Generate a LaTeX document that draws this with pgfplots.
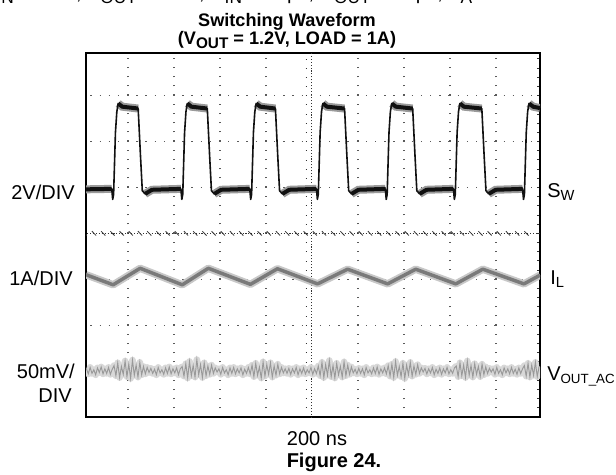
\documentclass[border=0pt]{standalone}
\usepackage{fontspec}
\setmainfont{Liberation Sans}
\usepackage{pgfplots}
\usepackage{pgfplotstable}
\pgfplotsset{compat=1.18}

\definecolor{swink}{HTML}{111111}
\definecolor{swfuzz}{HTML}{9A9A9A}
\definecolor{ilcore}{HTML}{7A7A7A}
\definecolor{ilfuzz}{HTML}{C8C8C8}
\definecolor{vocore}{HTML}{999999}
\definecolor{vofuzz}{HTML}{D8D8D8}
\definecolor{gridk}{HTML}{5A5A5A}

% lowered, smaller text for subscripts
\newcommand{\lo}[2]{\raisebox{-2.4pt}{\fontsize{#1}{#1}\selectfont #2}}

% screen divisions: x 0..10 (200 ns/div), y 0..8
% switch node, full trace
\pgfplotstableread[row sep=\\]{
x y\\
0.09 4.96\\
0.650 4.97\\ 0.670 4.74\\ 0.690 4.85\\ 0.730 6.20\\ 0.760 6.65\\ 0.790 6.83\\ 0.880 6.76\\ 1.224 6.72\\ 1.274 5.70\\ 1.314 4.93\\ 1.374 4.86\\ 1.524 4.95\\
2.153 4.97\\ 2.173 4.74\\ 2.193 4.85\\ 2.233 6.20\\ 2.263 6.65\\ 2.293 6.83\\ 2.383 6.76\\ 2.727 6.72\\ 2.777 5.70\\ 2.817 4.93\\ 2.877 4.86\\ 3.027 4.95\\
3.650 4.97\\ 3.670 4.74\\ 3.690 4.85\\ 3.730 6.20\\ 3.760 6.65\\ 3.790 6.83\\ 3.880 6.76\\ 4.208 6.72\\ 4.258 5.70\\ 4.298 4.93\\ 4.358 4.86\\ 4.508 4.95\\
5.100 4.97\\ 5.120 4.74\\ 5.140 4.85\\ 5.180 6.20\\ 5.210 6.65\\ 5.240 6.83\\ 5.330 6.76\\ 5.711 6.72\\ 5.761 5.70\\ 5.801 4.93\\ 5.861 4.86\\ 6.011 4.95\\
6.597 4.97\\ 6.617 4.74\\ 6.637 4.85\\ 6.677 6.20\\ 6.707 6.65\\ 6.737 6.83\\ 6.827 6.76\\ 7.192 6.72\\ 7.242 5.70\\ 7.282 4.93\\ 7.342 4.86\\ 7.492 4.95\\
8.078 4.97\\ 8.098 4.74\\ 8.118 4.85\\ 8.158 6.20\\ 8.188 6.65\\ 8.218 6.83\\ 8.308 6.76\\ 8.695 6.72\\ 8.745 5.70\\ 8.785 4.93\\ 8.845 4.86\\ 8.995 4.95\\
9.581 4.97\\ 9.601 4.74\\ 9.621 4.85\\ 9.661 6.20\\ 9.691 6.65\\ 9.721 6.83\\ 9.811 6.76\\ 9.960 6.73\\
}\swtrace

% switch node, flat parts (drawn thicker: noise band)
\pgfplotstableread[row sep=\\]{
x y\\
0.09 4.96\\ 0.650 4.97\\ nan nan\\
0.790 6.83\\ 0.880 6.76\\ 1.224 6.72\\ nan nan\\
1.374 4.86\\ 1.524 4.95\\ 2.153 4.97\\ nan nan\\
2.293 6.83\\ 2.383 6.76\\ 2.727 6.72\\ nan nan\\
2.877 4.86\\ 3.027 4.95\\ 3.650 4.97\\ nan nan\\
3.790 6.83\\ 3.880 6.76\\ 4.208 6.72\\ nan nan\\
4.358 4.86\\ 4.508 4.95\\ 5.100 4.97\\ nan nan\\
5.240 6.83\\ 5.330 6.76\\ 5.711 6.72\\ nan nan\\
5.861 4.86\\ 6.011 4.95\\ 6.597 4.97\\ nan nan\\
6.737 6.83\\ 6.827 6.76\\ 7.192 6.72\\ nan nan\\
7.342 4.86\\ 7.492 4.95\\ 8.078 4.97\\ nan nan\\
8.218 6.83\\ 8.308 6.76\\ 8.695 6.72\\ nan nan\\
8.845 4.86\\ 8.995 4.95\\ 9.581 4.97\\ nan nan\\
9.721 6.83\\ 9.811 6.76\\ 9.960 6.73\\
}\swflat

% inductor current
\pgfplotstableread[row sep=\\]{
x y\\
0.09 3.10\\ 0.680 2.88\\ 1.267 3.24\\ 2.183 2.88\\ 2.749 3.24\\ 3.664 2.89\\ 4.252 3.23\\
5.124 2.90\\ 5.777 3.22\\ 6.648 2.90\\ 7.258 3.22\\ 8.129 2.90\\ 8.717 3.22\\ 9.611 2.90\\ 9.960 3.09\\
}\iltrace

% output ripple (ac coupled)
\pgfplotstableread[row sep=\\]{
x y\\
0.10 1.05\\ 0.14 0.94\\ 0.18 1.08\\ 0.22 0.95\\ 0.26 1.03\\ 0.30 0.92\\ 0.34 1.07\\ 0.38 0.97\\ 0.42 1.09\\ 0.46 0.94\\ 0.50 1.05\\ 0.54 0.95\\ 0.58 1.08\\ 0.62 0.93\\ 0.66 1.04\\
0.70 1.12\\ 0.74 0.90\\ 0.78 1.18\\ 0.82 0.86\\ 0.86 1.10\\ 0.90 0.93\\ 0.94 1.22\\ 0.98 0.88\\ 1.02 1.15\\ 1.06 0.84\\ 1.10 1.24\\ 1.14 0.91\\ 1.18 1.13\\ 1.22 0.87\\ 1.26 1.19\\ 1.30 0.92\\ 1.34 1.10\\ 1.38 0.94\\ 1.42 1.08\\ 1.46 0.97\\
1.50 1.06\\ 1.54 0.95\\ 1.58 1.04\\ 1.62 0.92\\ 1.66 1.08\\ 1.70 0.96\\ 1.74 1.03\\ 1.78 0.93\\ 1.82 1.07\\ 1.86 0.95\\ 1.90 1.09\\ 1.94 0.94\\ 1.98 1.05\\ 2.02 0.96\\ 2.06 1.07\\ 2.10 0.92\\ 2.14 1.05\\
2.18 1.10\\ 2.22 0.89\\ 2.26 1.16\\ 2.30 0.85\\ 2.34 1.21\\ 2.38 0.90\\ 2.42 1.12\\ 2.46 0.87\\ 2.50 1.25\\ 2.54 0.92\\ 2.58 1.14\\ 2.62 0.86\\ 2.66 1.18\\ 2.70 0.90\\ 2.74 1.11\\ 2.78 0.93\\ 2.82 1.13\\ 2.86 0.95\\ 2.90 1.07\\ 2.94 0.98\\
2.98 1.05\\ 3.02 0.93\\ 3.06 1.08\\ 3.10 0.96\\ 3.14 1.03\\ 3.18 0.92\\ 3.22 1.07\\ 3.26 0.95\\ 3.30 1.08\\ 3.34 0.94\\ 3.38 1.05\\ 3.42 0.96\\ 3.46 1.07\\ 3.50 0.92\\ 3.54 1.04\\ 3.58 0.95\\ 3.62 1.08\\ 3.66 0.94\\
3.70 1.13\\ 3.74 0.88\\ 3.78 1.17\\ 3.82 0.91\\ 3.86 1.09\\ 3.90 0.85\\ 3.94 1.20\\ 3.98 0.89\\ 4.02 1.14\\ 4.06 0.93\\ 4.10 1.18\\ 4.14 0.87\\ 4.18 1.11\\ 4.22 0.91\\ 4.26 1.15\\ 4.30 0.94\\ 4.34 1.08\\ 4.38 0.96\\ 4.42 1.05\\
4.46 0.95\\ 4.50 1.06\\ 4.54 0.93\\ 4.58 1.05\\ 4.62 0.96\\ 4.66 1.08\\ 4.70 0.92\\ 4.74 1.05\\ 4.78 0.95\\ 4.82 1.07\\ 4.86 0.94\\ 4.90 1.03\\ 4.94 0.96\\ 4.98 1.08\\ 5.02 0.93\\ 5.06 1.05\\ 5.10 0.95\\
5.14 1.11\\ 5.18 0.90\\ 5.22 1.19\\ 5.26 0.86\\ 5.30 1.14\\ 5.34 0.91\\ 5.38 1.23\\ 5.42 0.88\\ 5.46 1.12\\ 5.50 0.85\\ 5.54 1.17\\ 5.58 0.92\\ 5.62 1.10\\ 5.66 0.87\\ 5.70 1.20\\ 5.74 0.90\\ 5.78 1.13\\ 5.82 0.93\\ 5.86 1.09\\ 5.90 0.96\\ 5.94 1.04\\
5.98 0.94\\ 6.02 1.06\\ 6.06 0.95\\ 6.10 1.05\\ 6.14 0.92\\ 6.18 1.08\\ 6.22 0.96\\ 6.26 1.03\\ 6.30 0.94\\ 6.34 1.07\\ 6.38 0.95\\ 6.42 1.09\\ 6.46 0.93\\ 6.50 1.05\\ 6.54 0.96\\ 6.58 1.07\\ 6.62 0.94\\
6.66 1.12\\ 6.70 0.89\\ 6.74 1.15\\ 6.78 0.86\\ 6.82 1.21\\ 6.86 0.91\\ 6.90 1.10\\ 6.94 0.88\\ 6.98 1.17\\ 7.02 0.84\\ 7.06 1.13\\ 7.10 0.92\\ 7.14 1.19\\ 7.18 0.89\\ 7.22 1.11\\ 7.26 0.93\\ 7.30 1.14\\ 7.34 0.95\\ 7.38 1.07\\ 7.42 0.98\\
7.46 1.06\\ 7.50 0.94\\ 7.54 1.05\\ 7.58 0.96\\ 7.62 1.08\\ 7.66 0.92\\ 7.70 1.04\\ 7.74 0.95\\ 7.78 1.07\\ 7.82 0.93\\ 7.86 1.05\\ 7.90 0.96\\ 7.94 1.08\\ 7.98 0.94\\ 8.02 1.03\\ 8.06 0.95\\ 8.10 1.07\\
8.14 1.11\\ 8.18 0.88\\ 8.22 1.18\\ 8.26 0.90\\ 8.30 1.13\\ 8.34 0.86\\ 8.38 1.22\\ 8.42 0.91\\ 8.46 1.12\\ 8.50 0.87\\ 8.54 1.16\\ 8.58 0.93\\ 8.62 1.10\\ 8.66 0.88\\ 8.70 1.15\\ 8.74 0.92\\ 8.78 1.09\\ 8.82 0.95\\ 8.86 1.06\\ 8.90 0.98\\
8.94 1.05\\ 8.98 0.93\\ 9.02 1.08\\ 9.06 0.95\\ 9.10 1.03\\ 9.14 0.92\\ 9.18 1.07\\ 9.22 0.96\\ 9.26 1.05\\ 9.30 0.94\\ 9.34 1.08\\ 9.38 0.95\\ 9.42 1.04\\ 9.46 0.93\\ 9.50 1.07\\ 9.54 0.95\\ 9.58 1.05\\
9.62 1.12\\ 9.66 0.89\\ 9.70 1.17\\ 9.74 0.87\\ 9.78 1.13\\ 9.82 0.91\\ 9.86 1.19\\ 9.90 0.88\\ 9.94 1.10\\
}\vout

\begin{document}
\begin{tikzpicture}
\useasboundingbox (0pt,0pt) rectangle (462pt,-355.5pt);
\begin{axis}[
  at={(64.5pt,-312.75pt)}, anchor=south west,
  scale only axis, width=340.5pt, height=273pt,
  xmin=0.09, xmax=9.96, ymin=0, ymax=7.93,
  xtick={1,2,3,4,6,7,8,9}, ytick={1,2,3,5,6,7},
  extra x ticks={5}, extra y ticks={4},
  xticklabels={}, yticklabels={},
  extra x tick labels={}, extra y tick labels={},
  minor ytick={0.2,0.4,...,7.8},
  ytick pos=right,
  major tick length=0pt, minor tick length=2.4pt,
  minor tick style={line width=0.7pt, black!80},
  grid=major,
  major x grid style={gridk, line width=1pt, dash pattern=on 1pt off 5.9pt, dash phase=0.5pt},
  major y grid style={gridk, line width=1pt, dash pattern=on 1pt off 5.886pt, dash phase=3.6pt},
  extra x tick style={grid=major, major x grid style={black!80, line width=0.8pt, dash pattern=on 0.8pt off 1.4pt}},
  extra y tick style={grid=major, major y grid style={black!80, line width=0.8pt, dash pattern=on 0.8pt off 1.4pt}},
  axis line style={line width=1.5pt, black},
  unbounded coords=jump,
  clip=true,
]
% centre graticule ticks
\pgfplotsinvokeforeach{0.2,0.4,...,7.8}{\draw[black!80, line width=0.6pt] (axis cs:5,#1) ++(-1.6pt,0) -- ++(3.2pt,0);}
\pgfplotsinvokeforeach{0.2,0.4,...,9.8}{\draw[black!80, line width=0.6pt] (axis cs:#1,4) ++(0,-1.6pt) -- ++(0,3.2pt);}

\addplot[vofuzz, line width=5pt, line join=round] table {\vout};
\addplot[vocore, line width=0.7pt] table {\vout};

\addplot[ilfuzz, line width=5.5pt, line join=round] table {\iltrace};
\addplot[ilcore, line width=2.6pt, line join=round] table {\iltrace};

\addplot[swfuzz, line width=6pt] table {\swflat};
\addplot[swink, line width=1.2pt, line join=round] table {\swtrace};
\addplot[swink, line width=3pt] table {\swflat};
\end{axis}

\begin{scope}[x=0.75pt, y=-0.75pt]
% cut-off conditions line at the top of the page
\node[anchor=base west, inner sep=0pt, font=\fontsize{15}{18}\selectfont] at (-17,0)
  {V\lo{13}{IN} = 3.6V, V\lo{13}{OUT} = 1.2V, C\lo{13}{IN} = 10µF, C\lo{13}{OUT} = 22µF, T\lo{13}{A} = 25°C};
\node[anchor=base, inner sep=0pt, font=\bfseries\fontsize{13.6}{16}\selectfont] at (287,27) {Switching Waveform};
\node[anchor=base, inner sep=0pt, font=\bfseries\fontsize{13.6}{16}\selectfont] at (287,45) {(V\lo{11.5}{OUT} = 1.2V, LOAD = 1A)};

\node[anchor=base east, inner sep=0pt, font=\fontsize{15}{18}\selectfont] at (75,199) {2V/DIV};
\node[anchor=base east, inner sep=0pt, font=\fontsize{15}{18}\selectfont] at (73,285) {1A/DIV};
\node[anchor=base east, inner sep=0pt, font=\fontsize{15}{18}\selectfont] at (75,378) {50mV/};
\node[anchor=base east, inner sep=0pt, font=\fontsize{15}{18}\selectfont] at (72,402) {DIV};

\node[anchor=base west, inner sep=0pt, font=\fontsize{15}{18}\selectfont] at (547,197) {S\lo{11}{W}};
\node[anchor=base west, inner sep=0pt, font=\fontsize{15}{18}\selectfont] at (550,284) {I\lo{11}{L}};
\node[anchor=base west, inner sep=0pt, font=\fontsize{15}{18}\selectfont] at (547,380) {V\lo{10}{OUT\_AC}};

\node[anchor=base, inner sep=0pt, font=\fontsize{15}{18}\selectfont] at (317,445) {200 ns};
\node[anchor=base, inner sep=0pt, font=\bfseries\fontsize{15}{18}\selectfont] at (334,467) {Figure 24.};
\end{scope}
\end{tikzpicture}
\end{document}
